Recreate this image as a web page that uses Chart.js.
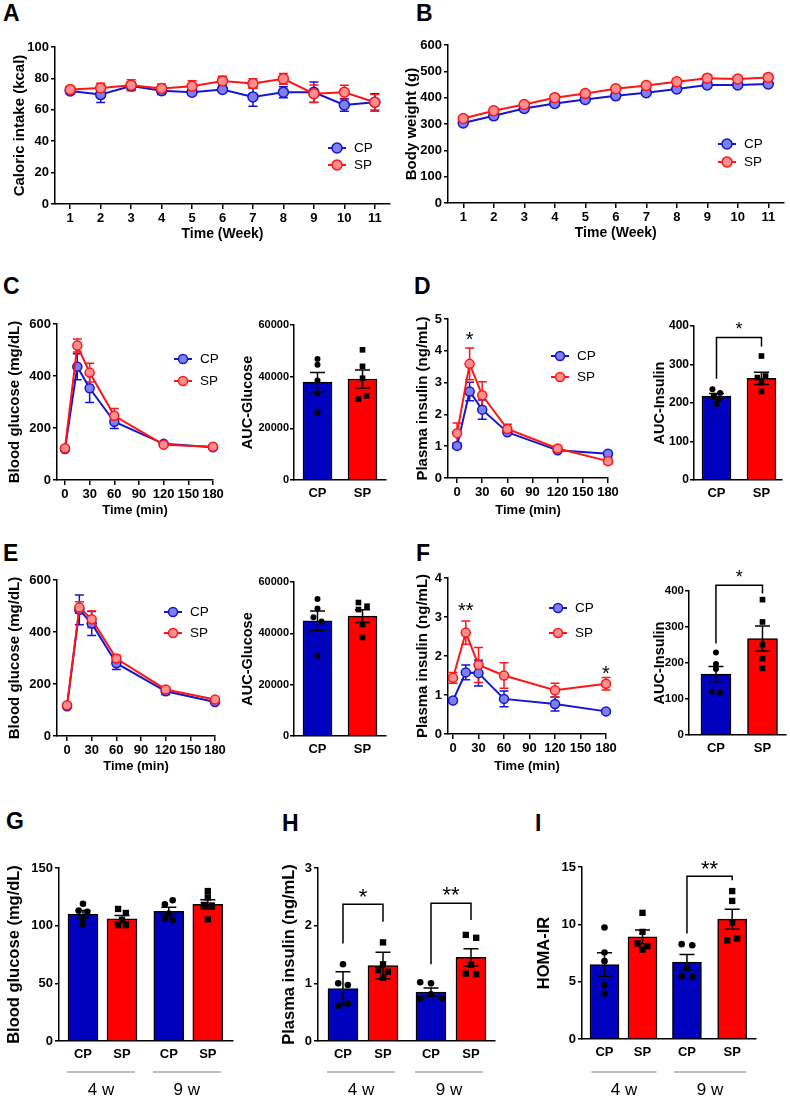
<!DOCTYPE html>
<html><head><meta charset="utf-8">
<script src="https://cdn.jsdelivr.net/npm/chart.js@4.4.0/dist/chart.umd.min.js"></script>
<style>
body{margin:0;background:#fff;width:790px;height:1098px;position:relative;overflow:hidden;font-family:"Liberation Sans",Arial,sans-serif}
canvas{position:absolute}
.pl{position:absolute;font-weight:bold;font-size:23px;line-height:23px;color:#000}
</style></head><body>
<div class="pl" style="left:3px;top:2px">A</div>
<div class="pl" style="left:416px;top:2px">B</div>
<div class="pl" style="left:3px;top:275px">C</div>
<div class="pl" style="left:414px;top:275px">D</div>
<div class="pl" style="left:3px;top:542px">E</div>
<div class="pl" style="left:416px;top:542px">F</div>
<div class="pl" style="left:6px;top:810px">G</div>
<div class="pl" style="left:282px;top:812px">H</div>
<div class="pl" style="left:535px;top:812px">I</div>
<script>
// ================= DATA =================
// A: caloric intake (kcal) by week
const weekLabels = ['1','2','3','4','5','6','7','8','9','10','11'];
const intakeCP    = [72.0, 69.7, 75.2, 72.2, 71.2, 72.9, 68.2, 71.2, 71.2, 63.1, 64.8];
const intakeCPsem = [2.0, 5.0, 2.5, 2.5, 1.5, 1.5, 6.0, 3.5, 6.5, 4.0, 5.5];
const intakeSP    = [72.9, 73.9, 75.6, 73.5, 75.0, 78.4, 76.7, 79.7, 70.3, 71.2, 64.8];
const intakeSPsem = [2.0, 3.0, 3.5, 3.0, 3.5, 3.0, 3.0, 3.5, 5.5, 4.5, 5.0];
// B: body weight (g)
const bwCP    = [304, 331, 359, 378, 393, 407, 419, 433, 448, 448, 452];
const bwCPsem = [4, 4, 4, 4, 4, 4, 4, 4, 4, 4, 4];
const bwSP    = [321, 350, 374, 400, 416, 434, 446, 460, 474, 471, 477];
const bwSPsem = [4, 4, 4, 4, 4, 4, 4, 4, 4, 4, 4];
// time course (min)
const timeMin   = [0, 15, 30, 60, 120, 180];
const timeTicks = [0, 30, 60, 90, 120, 150, 180];
// C: blood glucose
const glucC_CP    = [119, 436, 353, 224, 139, 126];
const glucC_CPsem = [5, 50, 55, 26, 6, 5];
const glucC_SP    = [122, 517, 413, 247, 136, 128];
const glucC_SPsem = [6, 25, 36, 28, 6, 6];
// D: plasma insulin
const insD_CP    = [1.01, 2.72, 2.15, 1.44, 0.87, 0.76];
const insD_CPsem = [0.08, 0.29, 0.30, 0.06, 0.05, 0.05];
const insD_SP    = [1.41, 3.59, 2.60, 1.54, 0.93, 0.53];
const insD_SPsem = [0.32, 0.50, 0.43, 0.15, 0.08, 0.10];
// E: blood glucose
const glucE_CP    = [114, 485, 433, 280, 172, 131];
const glucE_CPsem = [5, 57, 46, 24, 12, 5];
const glucE_SP    = [118, 494, 449, 298, 179, 140];
const glucE_SPsem = [5, 22, 32, 14, 8, 5];
// F: plasma insulin
const insF_CP    = [0.86, 1.58, 1.56, 0.90, 0.77, 0.58];
const insF_CPsem = [0.03, 0.19, 0.33, 0.20, 0.18, 0.03];
const insF_SP    = [1.44, 2.60, 1.77, 1.50, 1.12, 1.29];
const insF_SPsem = [0.14, 0.30, 0.45, 0.33, 0.18, 0.16];
// AUC bars
const groups2 = ['CP', 'SP'];
const aucGlucC_mean = [37900, 39100], aucGlucC_sem = [3700, 3500];
const aucGlucC_CP = [46800, 44600, 38500, 33600, 26200];
const aucGlucC_SP = [50400, 44000, 39400, 32600, 31300];
const aucInsD_mean = [218, 264], aucInsD_sem = [7, 16];
const aucInsD_CP = [236, 226, 219, 210, 198];
const aucInsD_SP = [322, 270, 266, 253, 230];
const aucGlucE_mean = [44900, 46700], aucGlucE_sem = [3800, 2500];
const aucGlucE_CP = [53400, 49650, 46300, 44600, 31300];
const aucGlucE_SP = [52000, 50560, 49270, 43450, 38400];
const aucInsF_mean = [169, 268], aucInsF_sem = [21, 35];
const aucInsF_CP = [229, 197, 183, 120, 118];
const aucInsF_SP = [376, 314, 251, 212, 185];
// G/H/I fasting values, groups CP/SP at 4 w and 9 w
const groups4 = ['CP', 'SP', 'CP', 'SP'];
const weeksGroups = ['4 w', '9 w'];
const fbg_mean = [110, 106, 112.5, 118.5], fbg_sem = [3.2, 2.8, 3.4, 4.0];
const fbg_dots = [[119, 113, 112, 106, 101], [114.5, 111, 105, 100.5, 100.5], [122, 118.5, 110.5, 106, 105], [130, 124.5, 118, 117.5, 105.5]];
const fins_mean = [0.91, 1.31, 0.85, 1.45], fins_sem = [0.29, 0.23, 0.07, 0.15];
const fins_dots = [[1.33, 1.0, 0.97, 0.65, 0.61], [1.71, 1.33, 1.23, 1.2, 1.1], [1.02, 1.0, 0.81, 0.74, 0.74], [1.84, 1.79, 1.32, 1.17, 1.16]];
const homa_mean = [6.5, 8.9, 6.7, 10.45], homa_sem = [1.03, 0.6, 0.67, 0.87];
const homa_dots = [[9.72, 7.54, 6.79, 4.7, 3.97], [11.0, 9.34, 8.33, 8.1, 7.8], [8.27, 8.18, 6.2, 5.48, 5.43], [12.9, 12.04, 10.15, 8.76, 8.6]];

// ================= STYLE =================
const FF = '"Liberation Sans", Arial, Helvetica, sans-serif';
const C_LINE = '#1515d0', C_FILL = '#7f7ff0', S_LINE = '#ff1515', S_FILL = '#ff8e8e';
const C_BAR = '#0000bf', S_BAR = '#ff0000';
Chart.defaults.font.family = FF;
Chart.defaults.color = '#000';
Chart.defaults.animation = false;

function mk(L, T, W, H) {
  const c = document.createElement('canvas');
  c.width = W; c.height = H;
  c.style.left = L + 'px'; c.style.top = T + 'px';
  c.style.width = W + 'px'; c.style.height = H + 'px';
  document.body.appendChild(c);
  return c;
}

// ---- plugins ----
const errPlugin = {
  id: 'err',
  beforeDatasetsDraw(chart) {
    const ctx = chart.ctx, ys = chart.scales.y;
    chart.data.datasets.forEach((ds, di) => {
      if (!ds.semLine) return;
      const meta = chart.getDatasetMeta(di);
      ctx.save(); ctx.strokeStyle = ds.borderColor; ctx.lineWidth = 1.5;
      meta.data.forEach((p, i) => {
        const d = ds.data[i]; const v = typeof d === 'object' ? d.y : d; const e = ds.semLine[i];
        const y1 = ys.getPixelForValue(v + e), y2 = ys.getPixelForValue(v - e), x = p.x, cw = ds.capW || 4.5;
        ctx.beginPath();
        ctx.moveTo(x, y1); ctx.lineTo(x, y2);
        ctx.moveTo(x - cw, y1); ctx.lineTo(x + cw, y1);
        ctx.moveTo(x - cw, y2); ctx.lineTo(x + cw, y2);
        ctx.stroke();
      });
      ctx.restore();
    });
  },
  afterDatasetDraw(chart, args) {
    const ds = chart.data.datasets[args.index];
    if (!ds.semBar) return;
    const ctx = chart.ctx, ys = chart.scales.y, meta = chart.getDatasetMeta(args.index);
    ctx.save(); ctx.strokeStyle = '#000'; ctx.lineWidth = 1.5;
    meta.data.forEach((p, i) => {
      const v = ds.data[i].y, e = ds.semBar[i];
      const y1 = ys.getPixelForValue(v + e), y2 = ys.getPixelForValue(v - e), x = p.x, cw = 7.5;
      ctx.beginPath();
      ctx.moveTo(x, y1); ctx.lineTo(x, y2);
      ctx.moveTo(x - cw, y1); ctx.lineTo(x + cw, y1);
      ctx.moveTo(x - cw, y2); ctx.lineTo(x + cw, y2);
      ctx.stroke();
    });
    ctx.restore();
  }
};
const legendPlugin = {
  id: 'lg',
  afterDraw(chart, args, o) {
    if (!o || o.dx === undefined) return;
    const ctx = chart.ctx, ca = chart.chartArea;
    chart.data.datasets.forEach((ds, i) => {
      const x = ca.left + o.dx, y = ca.top + o.dy + i * o.gap;
      ctx.save();
      ctx.strokeStyle = ds.borderColor; ctx.lineWidth = 2;
      ctx.beginPath(); ctx.moveTo(x - 9, y); ctx.lineTo(x + 9, y); ctx.stroke();
      ctx.beginPath(); ctx.arc(x, y, o.r || 5, 0, Math.PI * 2);
      ctx.fillStyle = ds.pointBackgroundColor; ctx.fill(); ctx.lineWidth = 1.5; ctx.stroke();
      ctx.fillStyle = '#000'; ctx.font = '13.5px ' + FF; ctx.textBaseline = 'middle'; ctx.textAlign = 'left';
      ctx.fillText(ds.label, x + 17, y + 0.5);
      ctx.restore();
    });
  }
};
function drawStar(ctx, t, x, y, size) {
  ctx.font = size + 'px ' + FF; ctx.textAlign = 'center'; ctx.textBaseline = 'alphabetic';
  ctx.fillText(t, x, y + 0.575 * size);
}
const sigPlugin = {
  id: 'sig',
  afterDraw(chart, args, o) {
    if (!o) return;
    const ctx = chart.ctx, xs = chart.scales.x, ys = chart.scales.y;
    ctx.save(); ctx.strokeStyle = '#000'; ctx.fillStyle = '#000'; ctx.lineWidth = 1.5;
    (o.brackets || []).forEach(b => {
      const xa = xs.getPixelForValue(b.a), xb = xs.getPixelForValue(b.b), yt = ys.getPixelForValue(b.top);
      ctx.beginPath();
      ctx.moveTo(xa, ys.getPixelForValue(b.la)); ctx.lineTo(xa, yt); ctx.lineTo(xb, yt); ctx.lineTo(xb, ys.getPixelForValue(b.lb));
      ctx.stroke();
      drawStar(ctx, b.text, (xa + xb) / 2, ys.getPixelForValue(b.ty), o.size);
    });
    (o.stars || []).forEach(s => drawStar(ctx, s.text, xs.getPixelForValue(s.x), ys.getPixelForValue(s.y), o.size));
    ctx.restore();
  }
};
const grpPlugin = {
  id: 'grp',
  afterDraw(chart, args, o) {
    if (!o || !o.items) return;
    const ctx = chart.ctx, xs = chart.scales.x, b = chart.chartArea.bottom;
    ctx.save(); ctx.strokeStyle = '#808080'; ctx.lineWidth = 1.2; ctx.fillStyle = '#000';
    ctx.font = '17px ' + FF; ctx.textAlign = 'center'; ctx.textBaseline = 'middle';
    o.items.forEach(it => {
      const x1 = xs.getPixelForValue(it.a) - o.l, x2 = xs.getPixelForValue(it.b) + o.r;
      ctx.beginPath(); ctx.moveTo(x1, b + o.ly); ctx.lineTo(x2, b + o.ly); ctx.stroke();
      ctx.fillText(it.label, (x1 + x2) / 2, b + o.ty);
    });
    ctx.restore();
  }
};

// ---- scale helpers ----
function yScale(o) {
  return {
    type: 'linear', min: o.min, max: o.max,
    ticks: { stepSize: o.step, font: { size: o.tf, weight: 'bold' }, padding: o.tp === undefined ? 2 : o.tp, color: '#000', callback: v => v },
    grid: { drawOnChartArea: false, drawTicks: true, tickLength: 4, color: '#000', lineWidth: 1.5 },
    border: { display: true, color: '#000', width: 1.5 },
    title: { display: true, text: o.title, font: { size: o.ttf, weight: 'bold' }, padding: 0, color: '#000' },
    afterFit: s => { s.width = o.yw; }
  };
}
function lineChart(g, xs, ys, series, extra) {
  const c = mk(g.L, g.T, g.W, g.H);
  return new Chart(c, {
    type: 'line',
    data: {
      labels: g.labels,
      datasets: series.map(s => ({
        label: s.name, data: s.data, semLine: s.sem, borderColor: s.line, backgroundColor: s.fill,
        pointBackgroundColor: s.fill, pointBorderColor: s.line, pointRadius: g.pr, pointBorderWidth: 1.5,
        borderWidth: 2, tension: 0, clip: false, order: s.order, capW: 4.5
      }))
    },
    options: {
      responsive: false, devicePixelRatio: 1, animation: false,
      layout: { padding: { top: g.pt, right: g.prt, left: 0, bottom: 0 } },
      scales: { x: xs, y: ys },
      plugins: Object.assign({ legend: { display: false }, tooltip: { enabled: false } }, extra)
    },
    plugins: [errPlugin, legendPlugin, sigPlugin]
  });
}
function timeX(min, xh, tf) {
  return {
    type: 'linear', min: min, max: 180,
    afterBuildTicks: s => { s.ticks = timeTicks.map(v => ({ value: v })); },
    ticks: { font: { size: tf, weight: 'bold' }, padding: 2, color: '#000', autoSkip: false, maxRotation: 0, callback: v => v },
    grid: { drawOnChartArea: false, tickLength: 5, color: '#000', lineWidth: 1.5 },
    border: { display: true, color: '#000', width: 1.5 },
    title: { display: true, text: 'Time (min)', font: { size: 13, weight: 'bold' }, padding: 0, color: '#000' },
    afterFit: s => { s.height = xh; }
  };
}
function weekX(xh) {
  return {
    type: 'category', offset: true,
    ticks: { font: { size: 13, weight: 'bold' }, padding: 2, color: '#000', autoSkip: false, maxRotation: 0 },
    grid: { drawOnChartArea: false, tickLength: 5, color: '#000', lineWidth: 1.5, offset: false },
    border: { display: true, color: '#000', width: 1.5 },
    title: { display: true, text: 'Time (Week)', font: { size: 14, weight: 'bold' }, padding: 0, color: '#000' },
    afterFit: s => { s.height = xh; }
  };
}
function barChart(g, cfg) {
  const c = mk(g.L, g.T, g.W, g.H);
  const barData = cfg.pos.map((p, i) => ({ x: p, y: cfg.means[i] }));
  const dotsC = [], dotsS = [];
  cfg.dots.forEach((arr, i) => arr.forEach((v, k) => {
    const pt = { x: cfg.pos[i] + cfg.jit[i][k], y: v };
    (i % 2 === 0 ? dotsC : dotsS).push(pt);
  }));
  return new Chart(c, {
    type: 'bar',
    data: {
      datasets: [
        { type: 'scatter', data: dotsC, pointStyle: 'circle', pointRadius: g.dr, pointBackgroundColor: '#000', pointBorderColor: '#000', pointBorderWidth: 0, order: 1, clip: false },
        { type: 'scatter', data: dotsS, pointStyle: 'rect', pointRadius: g.sr, pointBackgroundColor: '#000', pointBorderColor: '#000', pointBorderWidth: 0, order: 1, clip: false },
        { type: 'bar', data: barData, backgroundColor: cfg.pos.map((p, i) => i % 2 ? S_BAR : C_BAR), borderColor: '#000', borderWidth: 1.5, barThickness: g.bw, semBar: cfg.sems, order: 2 }
      ]
    },
    options: {
      responsive: false, devicePixelRatio: 1, animation: false,
      layout: { padding: { top: g.pt, right: g.prt, left: 0, bottom: 0 } },
      scales: {
        x: {
          type: 'linear', min: g.xmin, max: g.xmax, offset: false,
          afterBuildTicks: s => { s.ticks = cfg.pos.map(v => ({ value: v })); },
          ticks: { callback: (v, i) => cfg.labels[i], font: { size: 13, weight: 'bold' }, padding: 6, autoSkip: false, maxRotation: 0, color: '#000' },
          grid: { drawOnChartArea: false, drawTicks: false, offset: false, color: '#000', lineWidth: 1.5 },
          border: { display: true, color: '#000', width: 1.5 },
          afterFit: s => { s.height = g.xh; }
        },
        y: yScale(cfg.y)
      },
      plugins: Object.assign({ legend: { display: false }, tooltip: { enabled: false } }, cfg.extra || {})
    },
    plugins: [errPlugin, sigPlugin, grpPlugin]
  });
}
const xy = (xsArr, ysArr) => xsArr.map((x, i) => ({ x: x, y: ysArr[i] }));

// ================= PANELS =================
// A
lineChart({ L: 11, T: 37, W: 389, H: 206, pt: 10, prt: 10, labels: weekLabels, pr: 5 },
  weekX(39),
  yScale({ min: 0, max: 100, step: 20, tf: 13, ttf: 15, title: 'Caloric intake (kcal)', yw: 44 }),
  [{ name: 'CP', data: intakeCP, sem: intakeCPsem, line: C_LINE, fill: C_FILL, order: 2 },
   { name: 'SP', data: intakeSP, sem: intakeSPsem, line: S_LINE, fill: S_FILL, order: 1 }],
  { lg: { dx: 282, dy: 101, gap: 17 } });
// B
lineChart({ L: 403, T: 35, W: 387, H: 207, pt: 10, prt: 5, labels: weekLabels, pr: 5 },
  weekX(39),
  yScale({ min: 0, max: 600, step: 100, tf: 13, ttf: 15, title: 'Body weight (g)', yw: 45 }),
  [{ name: 'CP', data: bwCP, sem: bwCPsem, line: C_LINE, fill: C_FILL, order: 2 },
   { name: 'SP', data: bwSP, sem: bwSPsem, line: S_LINE, fill: S_FILL, order: 1 }],
  { lg: { dx: 279, dy: 99, gap: 18 } });
// C line
lineChart({ L: 6, T: 314, W: 225, H: 204, pt: 10, prt: 18, pr: 4.5 },
  timeX(-9.7, 38, 13),
  yScale({ min: 0, max: 600, step: 200, tf: 13, ttf: 15, title: 'Blood glucose (mg/dL)', yw: 51 }),
  [{ name: 'CP', data: xy(timeMin, glucC_CP), sem: glucC_CPsem, line: C_LINE, fill: C_FILL, order: 2 },
   { name: 'SP', data: xy(timeMin, glucC_SP), sem: glucC_SPsem, line: S_LINE, fill: S_FILL, order: 1 }],
  { lg: { dx: 126, dy: 35, gap: 22, r: 4.5 } });
// C bar
barChart({ L: 239, T: 315, W: 155, H: 190, pt: 10, prt: 8, xh: 25, xmin: -0.522, xmax: 1.522, bw: 29, dr: 3, sr: 4 },
  { pos: [0, 1], labels: groups2, means: aucGlucC_mean, sems: aucGlucC_sem,
    dots: [aucGlucC_CP, aucGlucC_SP], jit: [[0, 0, 0, 0, 0], [0, 0, 0, 0.09, -0.09]],
    y: { min: 0, max: 60000, step: 20000, tf: 11, ttf: 14.5, tp: 1, title: 'AUC-Glucose', yw: 55 } });
// D line
lineChart({ L: 414, T: 309, W: 212, H: 209, pt: 10, prt: 18, pr: 4.5 },
  timeX(-10.8, 40, 13),
  yScale({ min: 0, max: 5, step: 1, tf: 13, ttf: 15, title: 'Plasma insulin (ng/mL)', yw: 34 }),
  [{ name: 'CP', data: xy(timeMin, insD_CP), sem: insD_CPsem, line: C_LINE, fill: C_FILL, order: 2 },
   { name: 'SP', data: xy(timeMin, insD_SP), sem: insD_SPsem, line: S_LINE, fill: S_FILL, order: 1 }],
  { lg: { dx: 112, dy: 37, gap: 21, r: 4.5 }, sig: { size: 20, stars: [{ x: 15, y: 4.5, text: '*' }] } });
// D bar
barChart({ L: 651, T: 300, W: 139, H: 205, pt: 26, prt: 8, xh: 25, xmin: -0.5, xmax: 1.456, bw: 29, dr: 3, sr: 4 },
  { pos: [0, 1], labels: groups2, means: aucInsD_mean, sems: aucInsD_sem,
    dots: [aucInsD_CP, aucInsD_SP], jit: [[-0.09, 0.08, -0.06, 0.05, 0], [0, 0.09, -0.09, 0, 0]],
    y: { min: 0, max: 400, step: 100, tf: 12, ttf: 14.5, tp: 1, title: 'AUC-Insulin', yw: 43 },
    extra: { sig: { size: 18, brackets: [{ a: 0, b: 1, la: 263, lb: 347, top: 370, ty: 403, text: '*' }] } } });
// E line
lineChart({ L: 6, T: 570, W: 227, H: 204, pt: 10, prt: 18, pr: 4.5 },
  timeX(-12.2, 38, 13),
  yScale({ min: 0, max: 600, step: 200, tf: 13, ttf: 15, title: 'Blood glucose (mg/dL)', yw: 51 }),
  [{ name: 'CP', data: xy(timeMin, glucE_CP), sem: glucE_CPsem, line: C_LINE, fill: C_FILL, order: 2 },
   { name: 'SP', data: xy(timeMin, glucE_SP), sem: glucE_SPsem, line: S_LINE, fill: S_FILL, order: 1 }],
  { lg: { dx: 116, dy: 32, gap: 21, r: 4.5 } });
// E bar
barChart({ L: 239, T: 572, W: 155, H: 189, pt: 10, prt: 8, xh: 25, xmin: -0.522, xmax: 1.522, bw: 29, dr: 3, sr: 4 },
  { pos: [0, 1], labels: groups2, means: aucGlucE_mean, sems: aucGlucE_sem,
    dots: [aucGlucE_CP, aucGlucE_SP], jit: [[0, 0, -0.09, 0.09, 0], [-0.09, 0.1, -0.09, 0, 0]],
    y: { min: 0, max: 60000, step: 20000, tf: 11, ttf: 14.5, tp: 1, title: 'AUC-Glucose', yw: 55 } });
// F line
lineChart({ L: 414, T: 568, W: 210, H: 206, pt: 10, prt: 18, pr: 4.5 },
  timeX(-5.9, 40, 13),
  yScale({ min: 0, max: 4, step: 1, tf: 13, ttf: 15, title: 'Plasma insulin (ng/mL)', yw: 34 }),
  [{ name: 'CP', data: xy(timeMin, insF_CP), sem: insF_CPsem, line: C_LINE, fill: C_FILL, order: 2 },
   { name: 'SP', data: xy(timeMin, insF_SP), sem: insF_SPsem, line: S_LINE, fill: S_FILL, order: 1 }],
  { lg: { dx: 110, dy: 30, gap: 25, r: 4.5 }, sig: { size: 20, stars: [{ x: 15, y: 3.3, text: '**' }, { x: 180, y: 1.69, text: '*' }] } });
// F bar
barChart({ L: 651, T: 556, W: 139, H: 204, pt: 35, prt: 2, xh: 25, xmin: -0.579, xmax: 1.505, bw: 30, dr: 3, sr: 4 },
  { pos: [0, 1], labels: groups2, means: aucInsF_mean, sems: aucInsF_sem,
    dots: [aucInsF_CP, aucInsF_SP], jit: [[0, 0, 0, -0.09, 0.09], [0, 0, 0, 0, 0]],
    y: { min: 0, max: 400, step: 100, tf: 11.5, ttf: 14.5, tp: 1, title: 'AUC-Insulin', yw: 38 },
    extra: { sig: { size: 18, brackets: [{ a: 0, b: 1, la: 254, lb: 393, top: 416, ty: 450, text: '*' }] } } });
// G
barChart({ L: 5, T: 858, W: 236, H: 240, pt: 10, prt: 8, xh: 57, xmin: -0.615, xmax: 3.846, bw: 30, dr: 3.3, sr: 4.5 },
  { pos: [0, 1, 2.2, 3.2], labels: groups4, means: fbg_mean, sems: fbg_sem, dots: fbg_dots,
    jit: [[0, -0.11, 0.11, 0, 0], [-0.1, 0.1, 0, -0.1, 0.1], [0.1, -0.1, 0, -0.1, 0.1], [0, 0, -0.1, 0.1, 0]],
    y: { min: 0, max: 150, step: 50, tf: 13, ttf: 16.5, title: 'Blood glucose (mg/dL)', yw: 54 },
    extra: { grp: { items: [{ a: 0, b: 1, label: weeksGroups[0] }, { a: 2.2, b: 3.2, label: weeksGroups[1] }], l: 16, r: 13, ly: 31, ty: 49 } } });
// H
barChart({ L: 280, T: 850, W: 225, H: 248, pt: 18, prt: 10, xh: 57, xmin: -0.625, xmax: 3.8, bw: 30, dr: 3.3, sr: 4.5 },
  { pos: [0, 1, 2.2, 3.2], labels: groups4, means: fins_mean, sems: fins_sem, dots: fins_dots,
    jit: [[0, -0.12, 0.12, 0.12, -0.12], [0, 0, -0.12, 0.12, 0], [-0.27, 0, 0, -0.27, 0.27], [-0.13, 0.13, 0, -0.13, 0.13]],
    y: { min: 0, max: 3, step: 1, tf: 13, ttf: 16.5, title: 'Plasma insulin (ng/mL)', yw: 38 },
    extra: { sig: { size: 22, brackets: [{ a: 0, b: 1, la: 1.69, lb: 2.07, top: 2.37, ty: 2.6, text: '*' }, { a: 2.2, b: 3.2, la: 1.33, lb: 2.1, top: 2.39, ty: 2.63, text: '**' }] },
      grp: { items: [{ a: 0, b: 1, label: weeksGroups[0] }, { a: 2.2, b: 3.2, label: weeksGroups[1] }], l: 16, r: 12, ly: 31, ty: 49 } } });
// I
barChart({ L: 535, T: 847, W: 231, H: 251, pt: 20, prt: 10, xh: 59, xmin: -0.592, xmax: 3.987, bw: 29, dr: 3.3, sr: 4.5 },
  { pos: [0, 1, 2.17, 3.36], labels: groups4, means: homa_mean, sems: homa_sem, dots: homa_dots,
    jit: [[0, 0, 0, 0, 0], [0, 0, -0.13, 0.13, 0], [-0.14, 0.14, 0, -0.14, 0.14], [0, 0, 0, 0.13, -0.13]],
    y: { min: 0, max: 15, step: 5, tf: 13, ttf: 16.5, title: 'HOMA-IR', yw: 47 },
    extra: { sig: { size: 22, brackets: [{ a: 2.17, b: 3.36, la: 9.2, lb: 13.84, top: 14.19, ty: 15.35, text: '**' }] },
      grp: { items: [{ a: 0, b: 1, label: weeksGroups[0] }, { a: 2.17, b: 3.36, label: weeksGroups[1] }], l: 13, r: 14, ly: 33, ty: 51 } } });
</script>
</body></html>
